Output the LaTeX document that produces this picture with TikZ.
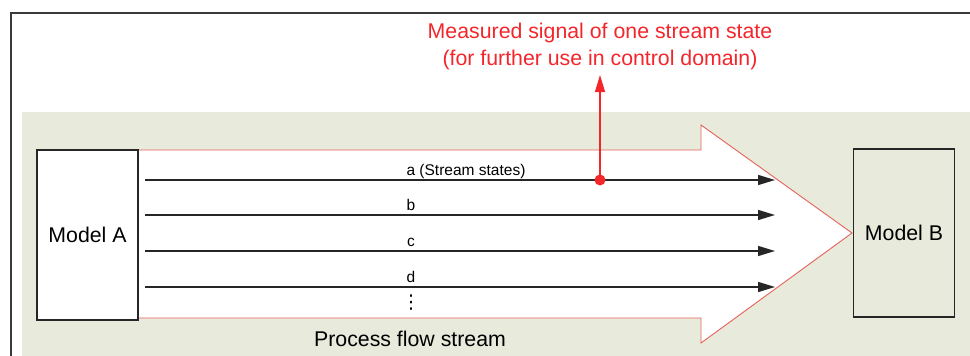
\documentclass[tikz,border=0pt]{standalone}
\usepackage{fontspec}
\setmainfont{Liberation Sans}
\newfontfamily\dotsfont{DejaVu Sans}
\usetikzlibrary{arrows.meta}

\definecolor{bandgray}{HTML}{E8EADB}
\definecolor{framegray}{HTML}{3A3A3A}
\definecolor{signalred}{HTML}{F2262B}
\definecolor{outlinered}{HTML}{E5625A}

\tikzset{
  model/.style={draw=black!85, line width=1.1pt, minimum width=101pt, inner sep=0pt,
    font=\fontsize{21.3}{25}\selectfont},
  statearrow/.style={draw=black!85, line width=1.4pt,
    -{Triangle[length=17pt,width=10pt]}},
  statelabel/.style={anchor=base, inner sep=0pt, font=\fontsize{15.5}{18}\selectfont},
  signal/.style={draw=signalred, line width=1.1pt,
    -{Triangle[length=17pt,width=10pt]}},
  redtext/.style={text=signalred, align=center, inner sep=0pt,
    font=\fontsize{21.3}{27}\selectfont},
}

\begin{document}
\begin{tikzpicture}[x=1pt,y=-1pt]
  \clip (0,0) rectangle (970,356);
  \fill[white] (0,0) rectangle (970,356);

  % outer frame, running past the right and lower edges
  \draw[framegray, line width=1.3pt] (11,380) -- (11,13) -- (990,13);

  % tinted band behind the process stream
  \fill[bandgray] (22,112) rectangle (990,380);

  % process flow stream as a wide block arrow
  \filldraw[fill=white, draw=outlinered, line width=0.9pt]
    (138,150) -- (701,150) -- (701,125) -- (852,233) -- (701,343) -- (701,318) -- (138,318);

  % the two models
  \node[model, fill=white, minimum height=170pt] (ma) at (87.5,235) {Model A};
  \node[model, fill=bandgray, minimum height=168pt] (mb) at (904,233) {Model B};

  % stream state signals
  \coordinate (sa) at (145,180); \coordinate (ea) at (775,180);
  \coordinate (sb) at (145,215); \coordinate (eb) at (775,215);
  \coordinate (sc) at (145,251); \coordinate (ec) at (775,251);
  \coordinate (sd) at (145,287); \coordinate (ed) at (775,287);
  \draw[statearrow] (sa) -- (ea);
  \draw[statearrow] (sb) -- (eb);
  \draw[statearrow] (sc) -- (ec);
  \draw[statearrow] (sd) -- (ed);

  \node[statelabel] (la) at (466,175) {a (Stream states)};
  \node[statelabel] (lb) at (411,210) {b};
  \node[statelabel] (lc) at (411,246) {c};
  \node[statelabel] (ld) at (411,282) {d};
  \node[inner sep=0pt, font=\dotsfont\fontsize{19}{22}\selectfont] (ldots) at (411,303) {⋮};

  % measured signal tapped from stream a
  \coordinate (tap) at (600,180);
  \coordinate (meas) at (600,75);
  \draw[signal] (tap) -- (meas);
  \fill[signalred] (tap) circle (5.5pt);

  \node[redtext] (note) at (600,46) {Measured signal of one stream state\\(for further use in control domain)};

  \node[anchor=base, inner sep=0pt, font=\fontsize{21.3}{25}\selectfont] (flow) at (410,346) {Process flow stream};
\end{tikzpicture}
\end{document}
